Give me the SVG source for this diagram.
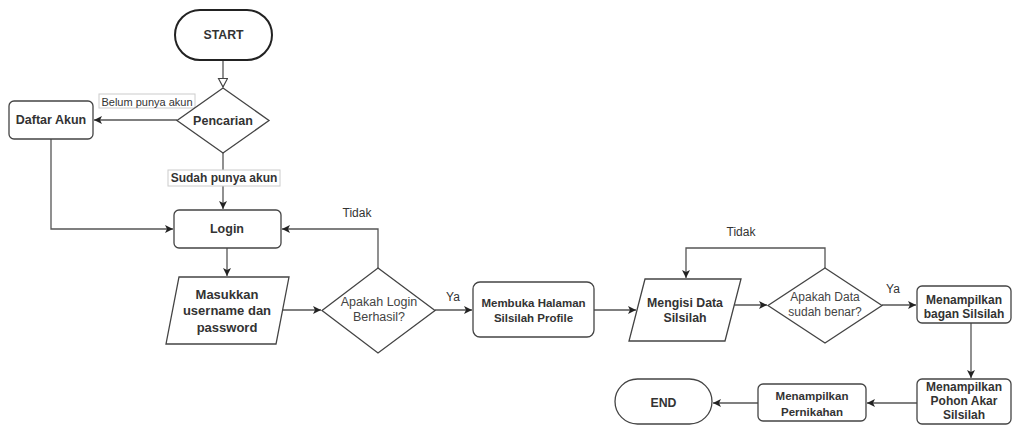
<svg xmlns="http://www.w3.org/2000/svg" width="1013" height="425" viewBox="0 0 1013 425">
<style>
.n{fill:#fff;stroke:#444;stroke-width:1.3}
.t{font-family:"Liberation Sans",Arial,sans-serif;fill:#333;text-anchor:middle;dominant-baseline:central}
.b{font-weight:bold;font-size:12.3px}
.r{font-size:12px}
.c{fill:none;stroke:#555;stroke-width:1.3}
.lb{fill:#fff;stroke:#ccc;stroke-width:1}
</style>
<defs>
<marker id="a" markerUnits="userSpaceOnUse" markerWidth="10" markerHeight="10" refX="8" refY="4" orient="auto">
<path d="M0,0 L8,4 L0,8 L2,4 z" fill="#222"/>
</marker>
<marker id="o" markerUnits="userSpaceOnUse" markerWidth="12" markerHeight="12" refX="9" refY="5" orient="auto">
<path d="M0.5,0.5 L9,5 L0.5,9.5 z" fill="#fff" stroke="#444" stroke-width="1.2"/>
</marker>
</defs>
<rect width="1013" height="425" fill="#fff"/>
<g id="connectors">
<path class="c" d="M223,60 V87" marker-end="url(#o)"/>
<path class="c" d="M177,120 H94" marker-end="url(#a)"/>
<path class="c" d="M223,153 V209" marker-end="url(#a)"/>
<path class="c" d="M51,139 V229 H173" marker-end="url(#a)"/>
<path class="c" d="M227,248 V276" marker-end="url(#a)"/>
<path class="c" d="M283,310 H321" marker-end="url(#a)"/>
<path class="c" d="M378,268 V229 H282" marker-end="url(#a)"/>
<path class="c" d="M435,310 H472" marker-end="url(#a)"/>
<path class="c" d="M594,310 H636" marker-end="url(#a)"/>
<path class="c" d="M734,305 H767" marker-end="url(#a)"/>
<path class="c" d="M825,268 V248 H686 V278" marker-end="url(#a)"/>
<path class="c" d="M882,305 H916" marker-end="url(#a)"/>
<path class="c" d="M971,323 V378" marker-end="url(#a)"/>
<path class="c" d="M917,403 H867" marker-end="url(#a)"/>
<path class="c" d="M758,403 H713" marker-end="url(#a)"/>
<rect class="lb" x="99" y="94" width="96" height="14"/>
<text class="t" x="147" y="101.5" style="font-size:11px">Belum punya akun</text>
<rect class="lb" x="168" y="170" width="112" height="16"/>
<text class="t b" x="224" y="178" style="font-size:12px">Sudah punya akun</text>
<text class="t r" x="357" y="213">Tidak</text>
<text class="t r" x="453" y="297">Ya</text>
<text class="t r" x="741" y="232">Tidak</text>
<text class="t r" x="893" y="289">Ya</text>
</g>
<g id="start">
<rect x="175" y="10" width="97" height="50" rx="25" fill="#fff" stroke="#222" stroke-width="2"/>
<text class="t b" x="223.5" y="35">START</text>
</g>
<g id="pencarian">
<path class="n" d="M223,88 L269,120.5 L223,153 L177,120.5 Z"/>
<text class="t b" x="223" y="120.5" style="font-size:12.5px">Pencarian</text>
</g>
<g id="daftar">
<rect class="n" x="9" y="101" width="84" height="38" rx="5"/>
<text class="t b" x="51" y="120" style="font-size:12.5px">Daftar Akun</text>
</g>
<g id="login">
<rect class="n" x="174" y="210" width="107" height="38" rx="5"/>
<text class="t b" x="227" y="229" style="font-size:12.5px">Login</text>
</g>
<g id="masukkan">
<path class="n" d="M179,277 H289 L276,344 H166 Z"/>
<text class="t b" x="227" y="294" style="font-size:13px">Masukkan</text>
<text class="t b" x="227" y="310.5" style="font-size:13px">username dan</text>
<text class="t b" x="227" y="327" style="font-size:13px">password</text>
</g>
<g id="cek-login">
<path class="n" d="M378,268 L435,310.5 L378,353 L322,310.5 Z"/>
<text class="t" x="379" y="302" style="font-size:12.5px;fill:#444">Apakah Login</text>
<text class="t" x="379" y="317" style="font-size:12.5px;fill:#444">Berhasil?</text>
</g>
<g id="membuka">
<rect class="n" x="473" y="282" width="121" height="55" rx="7"/>
<text class="t b" x="533.5" y="303" style="font-size:11.5px">Membuka Halaman</text>
<text class="t b" x="533.5" y="318" style="font-size:11.5px">Silsilah Profile</text>
</g>
<g id="mengisi">
<path class="n" d="M645,279 H741 L725,341 H629 Z"/>
<text class="t b" x="685" y="302.5">Mengisi Data</text>
<text class="t b" x="685" y="318">Silsilah</text>
</g>
<g id="cek-data">
<path class="n" d="M825,268 L882,305.5 L825,343 L768,305.5 Z"/>
<text class="t r" x="825" y="297" style="fill:#444">Apakah Data</text>
<text class="t r" x="825" y="312" style="fill:#444">sudah benar?</text>
</g>
<g id="bagan">
<rect class="n" x="917" y="286" width="94" height="37" rx="5"/>
<text class="t b" x="964" y="300" style="font-size:12px">Menampilkan</text>
<text class="t b" x="964" y="314" style="font-size:12px">bagan Silsilah</text>
</g>
<g id="pohon">
<rect class="n" x="917" y="379" width="94" height="45" rx="5"/>
<text class="t b" x="964" y="387" style="font-size:12px">Menampilkan</text>
<text class="t b" x="964" y="401" style="font-size:12px">Pohon Akar</text>
<text class="t b" x="964" y="415" style="font-size:12px">Silsilah</text>
</g>
<g id="pernikahan">
<rect class="n" x="758" y="384" width="108" height="37" rx="5"/>
<text class="t b" x="812" y="396" style="font-size:11.5px">Menampilkan</text>
<text class="t b" x="812" y="412" style="font-size:11.5px">Pernikahan</text>
</g>
<g id="end">
<rect class="n" x="615" y="379" width="97" height="45" rx="22.5"/>
<text class="t b" x="663.5" y="403">END</text>
</g>
</svg>
